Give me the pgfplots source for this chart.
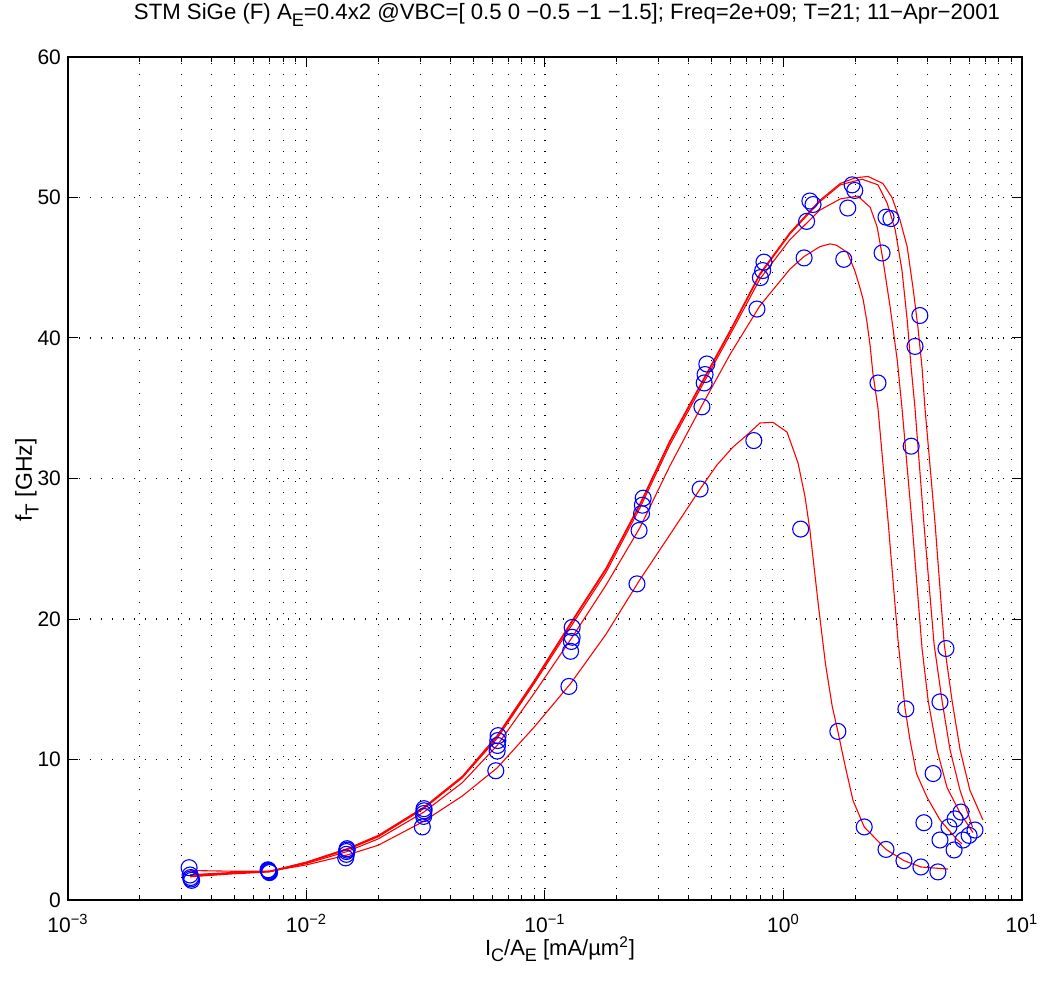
\documentclass[border=0pt]{standalone}
\usepackage{pgfplots}
\pgfplotsset{compat=1.18}
\usepackage{fontspec}
\setmainfont{Liberation Sans}
\newcommand\sub[1]{\raisebox{-0.55ex}{\scalebox{0.82}{#1}}}

\begin{document}
\begin{tikzpicture}
\useasboundingbox (-34pt,-40.5pt) rectangle (491pt,450pt);
\begin{axis}[
    at={(0,0)}, anchor=south west,
    scale only axis, width=477pt, height=421.5pt,
    xmode=log, xmin=1e-3, xmax=10, ymin=0, ymax=60,
    xtick={0.001,0.01,0.1,1,10},
    xticklabels={10\textsuperscript{−3},10\textsuperscript{−2},10\textsuperscript{−1},10\textsuperscript{0},10\textsuperscript{1}},
    ytick={0,10,20,30,40,50,60},
    tick pos=both, tick align=inside,
    major tick length=5pt, minor tick length=2.5pt,
    tick style={black, line width=0.5pt},
    axis line style={black, line width=0.8pt},
    grid=both,
    major grid style={black, line width=0.55pt, dash pattern=on 0.55pt off 4.95pt},
    minor grid style={black, line width=0.55pt, dash pattern=on 0.55pt off 4.95pt},
    /pgf/number format/assume math mode=true,
    tick label style={font=\fontsize{10.5}{12}\selectfont},
    xticklabel style={anchor=base, yshift=-16pt},
]
% model curves (VBC = 0.5 ... -1.5)
\addplot[red, line width=0.55pt, mark=none] coordinates {
(0.00325,1.70) (0.0048,1.90) (0.0070,2.05) (0.010,2.70) (0.0148,3.65) (0.020,4.60)
(0.031,6.60) (0.045,8.80) (0.063,11.7) (0.090,15.6) (0.130,19.9) (0.180,23.6)
(0.250,28.2) (0.334,32.7) (0.459,37.0) (0.600,40.6) (0.797,44.6) (1.064,47.5)
(1.42,49.8) (1.73,51.0) (2.00,51.4) (2.26,51.5) (2.61,51.0) (2.85,50.0) (3.08,48.4)
(3.30,46.5) (3.49,43.6) (3.66,40.8) (3.81,37.9) (3.92,35.0) (4.32,26.8) (4.72,18.2)
(5.09,14.2) (5.50,10.7) (6.05,7.8) (6.86,5.7)
};
\addplot[red, line width=0.55pt, mark=none] coordinates {
(0.00325,1.75) (0.0048,1.92) (0.0070,2.03) (0.010,2.68) (0.0148,3.62) (0.020,4.55)
(0.031,6.55) (0.045,8.75) (0.063,11.6) (0.090,15.5) (0.130,19.8) (0.180,23.5)
(0.250,28.1) (0.334,32.6) (0.459,36.9) (0.600,40.5) (0.797,44.5) (1.064,47.4)
(1.42,49.7) (1.73,50.9) (2.135,51.3) (2.49,50.9) (2.72,49.6) (2.94,47.7) (3.14,44.8)
(3.30,41.3) (3.43,37.9) (3.56,35.0) (3.88,26.8) (4.28,18.2) (4.62,14.2) (4.99,10.7)
(5.50,7.8) (6.20,5.2)
};
\addplot[red, line width=0.55pt, mark=none] coordinates {
(0.00325,1.80) (0.0048,1.95) (0.0070,2.02) (0.010,2.65) (0.0148,3.58) (0.020,4.50)
(0.031,6.50) (0.045,8.70) (0.063,11.5) (0.090,15.4) (0.130,19.6) (0.180,23.3)
(0.250,27.9) (0.334,32.4) (0.459,36.7) (0.600,40.3) (0.797,44.2) (1.064,47.0)
(1.42,49.1) (1.73,49.9) (2.05,50.1) (2.31,49.3) (2.47,47.9) (2.61,45.6) (2.80,42.2)
(3.00,38.4) (3.14,35.0) (3.46,26.8) (3.81,17.9) (4.04,14.2) (4.40,10.7) (4.85,8.0)
(5.50,6.2) (6.23,4.8)
};
\addplot[red, line width=0.55pt, mark=none] coordinates {
(0.00325,1.65) (0.0048,1.85) (0.0070,2.00) (0.010,2.60) (0.0148,3.45) (0.020,4.35)
(0.031,6.25) (0.045,8.35) (0.063,11.0) (0.090,14.7) (0.130,18.7) (0.180,22.4)
(0.250,26.5) (0.334,30.9) (0.455,35.2) (0.600,38.9) (0.797,42.3) (1.064,44.9)
(1.22,45.8) (1.42,46.5) (1.567,46.7) (1.67,46.6) (1.85,46.1) (1.99,44.8) (2.09,43.6)
(2.16,42.7) (2.24,41.1) (2.31,39.4) (2.37,37.5) (2.49,35.0) (2.75,26.8) (3.02,18.5)
(3.23,13.7) (3.39,11.4) (3.61,9.0) (4.00,7.3) (4.53,5.7) (5.34,4.3) (5.60,4.0)
};
\addplot[red, line width=0.55pt, mark=none] coordinates {
(0.00325,2.10) (0.0048,2.05) (0.0070,2.05) (0.010,2.50) (0.0148,3.20) (0.020,3.90)
(0.031,5.60) (0.045,7.40) (0.063,9.40) (0.090,12.3) (0.128,15.4) (0.180,18.9)
(0.250,22.8) (0.334,26.0) (0.447,29.25) (0.526,30.96) (0.614,32.24) (0.703,33.1)
(0.797,33.95) (0.903,34.0) (1.035,33.3) (1.151,31.1) (1.231,28.7) (1.291,26.3)
(1.40,21.0) (1.50,16.8) (1.60,13.8) (1.69,12.0) (1.80,9.8) (1.955,7.1) (2.18,5.2)
(2.69,3.6) (3.20,2.8) (3.77,2.35) (4.90,2.2)
};
% measured data
\addplot[only marks, mark=o, mark size=4pt, blue, mark options={line width=0.55pt}] coordinates {
(0.00322,2.3) (0.00325,1.78) (0.00327,1.6) (0.00328,1.5) (0.0033,1.4)
(0.0069,2.15) (0.00692,2.1) (0.00695,2.05) (0.00697,2.0) (0.007,1.95)
(0.0148,3.65) (0.0148,3.55) (0.0147,3.45) (0.0147,3.25) (0.0146,3.0)
(0.0311,6.5) (0.0311,6.35) (0.031,6.15) (0.031,5.95) (0.0306,5.2)
(0.0636,11.7) (0.0634,11.35) (0.0632,11.0) (0.063,10.6) (0.0622,9.2)
(0.130,19.4) (0.130,18.7) (0.129,18.4) (0.128,17.7) (0.126,15.2)
(0.258,28.6) (0.256,28.1) (0.254,27.5) (0.248,26.3) (0.243,22.5)
(0.477,38.15) (0.469,37.4) (0.465,36.8) (0.455,35.1) (0.447,29.25)
(0.828,45.4) (0.818,44.8) (0.80,44.3) (0.774,42.06) (0.751,32.7)
(1.29,49.75) (1.33,49.5) (1.25,48.3) (1.22,45.7) (1.18,26.4)
(1.94,50.9) (1.99,50.5) (1.86,49.25) (1.79,45.6) (1.69,12.0)
(2.69,48.6) (2.82,48.5) (2.59,46.05) (2.49,36.8) (2.18,5.2)
(3.73,41.6) (3.56,39.4) (3.43,32.3) (3.26,13.6) (2.69,3.6)
(4.80,17.9) (4.53,14.1) (4.24,9.0) (3.88,5.5) (3.20,2.8)
(5.55,6.26) (5.24,5.77) (4.94,5.2) (4.53,4.27) (3.77,2.35)
(6.35,4.98) (6.00,4.6) (5.66,4.27) (5.19,3.56) (4.44,2.0)
};
\end{axis}
\node[anchor=base, font=\fontsize{11.1}{13}\selectfont] at (249.5pt,440pt)
  {STM SiGe (F) A\sub{E}=0.4x2 @VBC=[ 0.5 0 −0.5 −1 −1.5]; Freq=2e+09; T=21; 11−Apr−2001};
\node[anchor=base, font=\fontsize{11}{13}\selectfont, inner sep=1pt] at (246pt,-27.5pt)
  {I\sub{C}/A\sub{E} [mA/µm\textsuperscript{2}]};
\node[anchor=base, rotate=90, font=\fontsize{11.5}{13}\selectfont] at (-18pt,210pt)
  {f\sub{T} [GHz]};
\end{tikzpicture}
\end{document}
